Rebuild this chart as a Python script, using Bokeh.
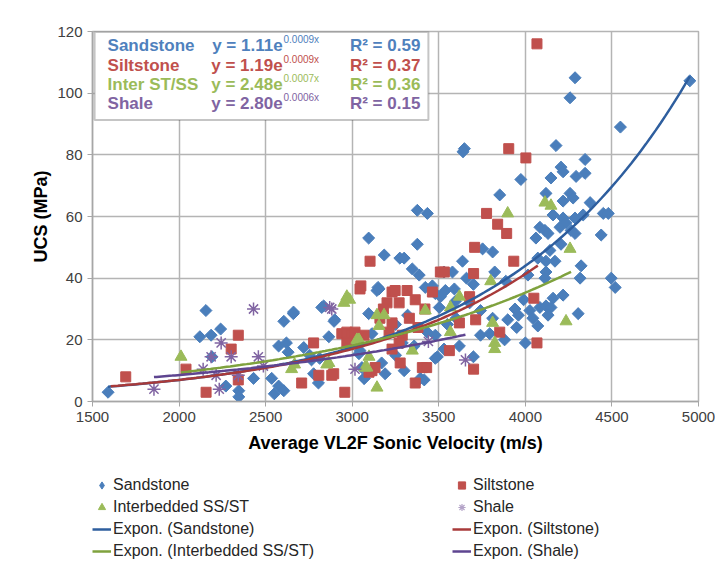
import numpy as np
from bokeh.plotting import figure
from bokeh.layouts import column
from bokeh.models import (Range1d, SingleIntervalTicker, Legend, LegendItem,
                          BoxAnnotation, Label)
from bokeh.embed import file_html
from bokeh.resources import INLINE

# ---------------- data ----------------
SAND_X = [1590, 2120, 2185, 2240, 2155, 2190, 2270, 2345, 2345, 2430, 2535, 2575, 2605, 2550,
          2605, 2660, 2575, 2620, 2630, 2720, 2765, 2805, 2835, 2895, 2865, 3045, 3095, 3185,
          3275, 3155, 3095, 3170, 3070, 3190, 4287, 4258, 4549, 4950, 3648, 3640, 4177, 3974,
          3852, 4206, 4218, 4148, 4345, 4293, 4345, 4119, 4258, 4276, 4218, 4374, 4160, 4218,
          4235, 4287, 4200, 4264, 4084, 4113, 4061, 4131, 4287, 4450, 4479, 4438, 4334, 4072,
          4119, 4171, 4142, 4206, 4119, 4113, 4322, 4316, 4496, 4519, 4015, 4026, 4043, 4072,
          4084, 4119, 4160, 4218, 4148, 4305, 4131, 3376, 3434, 3376, 3300, 3347, 3387, 3579,
          3637, 3753, 3811, 3823, 3887, 3422, 3480, 3538, 3590, 3596, 3503, 3678, 3741, 3811,
          3898, 3741, 3794, 3619, 3480, 3480, 3358, 3393, 2661, 2824, 2899, 3143, 3510, 2754,
          2812, 2777, 3039, 3114, 3056, 3492, 3433, 3416, 3068, 3289, 3463, 3149, 3250, 3320,
          3550, 3600, 3700, 3660, 3530, 3940, 3990, 3950, 3880, 3960, 4000, 3530, 3700, 3300,
          3250]
SAND_Y = [3, 21, 21.5, 23.5, 29.5, 14.5, 5, 3.5, 1.5, 7.5, 7.5, 5, 3.5, 2.5,
          26, 28.5, 18, 19, 16, 17.5, 13.5, 6, 31, 26, 21, 16.5, 53, 47.5,
          46.5, 36.5, 28.5, 12.5, 7.5, 9, 105, 98.5, 89, 104, 82, 81, 83, 72,
          67, 76, 74.5, 72.5, 78.5, 73, 74, 67.5, 67.5, 66, 65, 64.5, 60.5, 59.5,
          58, 59.5, 56.5, 55.5, 56.5, 55.5, 53, 54.5, 54.5, 61, 61, 54, 60.5, 46.5,
          45.5, 45.5, 49, 51, 42, 40, 44, 40, 40, 37, 41, 29.5, 27, 24.5,
          30.5, 31, 33.5, 34.5, 30.5, 28.5, 28, 62, 61, 51, 46.5, 43, 41, 42,
          45.5, 49.5, 48.5, 42, 39, 37, 35, 36, 36.5, 32.5, 30.5, 32, 29.5, 27,
          26.5, 21.5, 22, 18, 21.5, 14, 18, 7.5, 29, 30.5, 26.5, 36, 34, 15,
          14, 9, 15.5, 22, 11, 14.5, 22.5, 7, 7.5, 19, 37.5, 37, 25, 28,
          25, 27, 38, 40, 42, 30, 33, 24, 20, 28, 19, 17, 14.5, 10,
          15]

SILT_X = [1692, 2040, 2156, 2301, 2342, 2342, 2708, 2777, 2807, 2882, 2893, 2957, 2940, 2969,
          2998, 3016, 2969, 3068, 3050, 3103, 3045, 3097, 3114, 3132, 3201, 3230, 3271, 3317,
          3364, 3463, 3230, 3213, 3289, 3271, 3230, 3277, 3364, 3405, 3430, 3509, 3532, 3561,
          3619, 3678, 3701, 3707, 3713, 3701, 3776, 3840, 3892, 3852, 3904, 4003, 3933, 4049,
          4067, 4067, 3248, 3180, 3330, 3380, 3160, 3420]
SILT_Y = [8, 10.5, 3, 17, 21.5, 7, 6, 19, 8.5, 8.5, 9, 3, 22, 22.5,
          21.5, 22.5, 19, 21.5, 37.5, 45.5, 36.5, 9.5, 10, 11, 32, 35.5, 32, 36,
          33, 35.5, 25.5, 22.5, 21.5, 19, 17, 12.5, 6, 11, 11, 42, 42, 16.5,
          25.5, 34, 41.5, 50, 26.5, 10.5, 61, 57.5, 54.5, 22.5, 82, 79, 45.5, 33.5,
          19, 116, 36, 30, 27, 24, 27, 30]

INTER_X = [2011, 2650, 2667, 2853, 2865, 2952, 2969, 2985, 3027, 3039, 3074, 3085, 3097, 3143,
           3143, 3184, 3155, 3347, 3422, 3567, 3619, 3567, 3800, 3811, 3823, 3823, 3898, 4113,
           4148, 4258, 4235]
INTER_Y = [14.5, 10.5, 12, 12, 12.5, 32, 34, 33, 20, 20, 11, 11, 14.5, 4.5,
           28, 28, 24.5, 16.5, 29.5, 30.5, 34, 22.5, 39, 25.5, 19, 17, 61, 64.5,
           63.5, 49.5, 26]

SHALE_X = [1855, 2139, 2185, 2214, 2232, 2243, 2301, 2342, 2430, 2458, 2487, 2870, 2882, 3016,
           3440, 3654]
SHALE_Y = [4, 10.5, 14.5, 8.5, 4, 19, 14.5, 8.5, 30, 14.5, 11.5, 30.5, 30, 10.5,
           19.5, 13.5]

SERIES_NAMES = ["Sandstone", "Siltstone", "Interbedded SS/ST", "Shale"]
BOX_NAMES = ["Sandstone", "Siltstone", "Inter ST/SS", "Shale"]
EQ_COEF = ["1.11", "1.19", "2.48", "2.80"]
EQ_EXP = ["0.0009x", "0.0009x", "0.0007x", "0.0006x"]
R2_VALUES = ["0.59", "0.37", "0.36", "0.15"]
# exponential trendlines y = a * exp(b x), spanning each series' velocity range
TREND_A = [1.11, 1.19, 2.48, 2.80]
TREND_B = [0.00092, 0.000887, 0.000664, 0.00056]
TREND_X0 = [1590, 1605, 2011, 1855]
TREND_X1 = [4950, 4072, 4264, 3654]

X_START, X_END, X_STEP = 1500, 5000, 500
Y_START, Y_END, Y_STEP = 0, 120, 20

# ---------------- styles ----------------
MARK_COLORS = ["#4A7EBB", "#C0504D", "#9BBB59", "#8064A2"]
LINE_COLORS = ["#2E5E9E", "#A83A3A", "#7FA23E", "#5E4590"]
TEXT_COLORS = ["#4F81BD", "#C0504D", "#9BBB59", "#8064A2"]
FONT = "Liberation Sans"
W = 715

p = figure(width=W, height=462,
           x_range=Range1d(X_START, X_END), y_range=Range1d(Y_START, Y_END),
           output_backend="svg", toolbar_location=None,
           min_border_left=92, min_border_right=17, min_border_top=31,
           min_border_bottom=61)
p.background_fill_color = "white"
p.border_fill_color = "white"
p.outline_line_color = "#B4B4B4"
p.outline_line_width = 1.5

p.xaxis.ticker = SingleIntervalTicker(interval=X_STEP)
p.yaxis.ticker = SingleIntervalTicker(interval=Y_STEP)
p.xgrid.ticker = SingleIntervalTicker(interval=X_STEP)
p.ygrid.ticker = SingleIntervalTicker(interval=Y_STEP)
for g in (p.xgrid, p.ygrid):
    g.grid_line_color = "#B4B4B4"
    g.grid_line_width = 1.5

for ax in (p.xaxis, p.yaxis):
    ax.axis_line_color = "#A6A6A6"
    ax.axis_line_width = 1.5
    ax.major_tick_line_color = "#A6A6A6"
    ax.major_tick_out = 5
    ax.major_tick_in = 0
    ax.minor_tick_line_color = None
    ax.major_label_text_font = FONT
    ax.major_label_text_font_size = "15px"
    ax.major_label_text_color = "#404040"
    ax.axis_label_text_font = FONT
    ax.axis_label_text_font_size = "18px"
    ax.axis_label_text_font_style = "bold"
    ax.axis_label_text_color = "#000000"

p.xaxis.axis_label = "Average VL2F Sonic Velocity (m/s)"
p.yaxis.axis_label = "UCS (MPa)"
p.xaxis.axis_label_standoff = 8
p.yaxis.axis_label_standoff = 3

# ---------------- scatter ----------------
SAND_STYLE = dict(marker="square", angle=np.pi / 4, fill_color=MARK_COLORS[0], line_color=MARK_COLORS[0])
SILT_STYLE = dict(marker="square", fill_color=MARK_COLORS[1], line_color=MARK_COLORS[1])
INTER_STYLE = dict(marker="triangle", fill_color=MARK_COLORS[2], line_color=MARK_COLORS[2])
SHALE_STYLE = dict(marker="asterisk", line_color=MARK_COLORS[3], line_width=1.5)

p.scatter(SAND_X, SAND_Y, size=8.5, **SAND_STYLE)
p.scatter(SILT_X, SILT_Y, size=10, **SILT_STYLE)
p.scatter(INTER_X, INTER_Y, size=12, **INTER_STYLE)
p.scatter(SHALE_X, SHALE_Y, size=13, **SHALE_STYLE)

# ---------------- trendlines ----------------
TREND_XS, TREND_YS = [], []
for i in range(4):
    xs = np.linspace(TREND_X0[i], TREND_X1[i], 120)
    ys = TREND_A[i] * np.exp(TREND_B[i] * xs)
    TREND_XS.append(xs)
    TREND_YS.append(ys)
    p.line(xs, ys, line_color=LINE_COLORS[i], line_width=2.5)

# ---------------- equation box ----------------
box = BoxAnnotation(left=1512, right=3440, top=119.8, bottom=91.3,
                    fill_color="white", fill_alpha=1.0,
                    line_color="#404040", line_width=2)
p.add_layout(box)

ROW_Y0, ROW_DY = 115.4, 6.27
for i in range(4):
    yy = ROW_Y0 - i * ROW_DY
    common = dict(y=yy, text_baseline="middle", text_font=FONT,
                  text_color=TEXT_COLORS[i], text_font_size="17px",
                  text_font_style="bold")
    p.add_layout(Label(x=1587, text=BOX_NAMES[i], text_align="left", **common))
    p.add_layout(Label(x=2598, text="y = " + EQ_COEF[i] + "e", text_align="right", **common))
    p.add_layout(Label(x=2987, text="R\u00b2 = " + R2_VALUES[i], text_align="left", **common))
    p.add_layout(Label(x=2603, y=yy, y_offset=6, text=EQ_EXP[i], text_align="left",
                       text_baseline="middle", text_font=FONT, text_color=TEXT_COLORS[i],
                       text_font_size="10px"))

# ---------------- legend (separate strip below the chart) ----------------
lg = figure(width=W, height=98, x_range=Range1d(X_START, X_END), y_range=Range1d(Y_START, Y_END),
            output_backend="svg", toolbar_location=None,
            x_axis_location=None, y_axis_location=None,
            min_border_left=0, min_border_right=0, min_border_top=0, min_border_bottom=0)
lg.grid.visible = False
lg.outline_line_color = None
lg.background_fill_color = "white"
lg.border_fill_color = "white"

# hidden copies of the series: they only supply the legend's swatches
d_sand = lg.scatter(SAND_X, SAND_Y, size=11, marker="diamond", fill_color=MARK_COLORS[0],
                    line_color=MARK_COLORS[0], visible=False)
d_silt = lg.scatter(SILT_X, SILT_Y, size=9, visible=False, **SILT_STYLE)
d_inter = lg.scatter(INTER_X, INTER_Y, size=10, visible=False, **INTER_STYLE)
d_shale = lg.scatter(SHALE_X, SHALE_Y, size=11, marker="asterisk", line_color="#B3A2C7",
                     line_width=1.2, visible=False)
d_lines = [lg.line(TREND_XS[i], TREND_YS[i], line_color=LINE_COLORS[i], line_width=2.5,
                   visible=False) for i in range(4)]

items = [
    LegendItem(label=SERIES_NAMES[0], renderers=[d_sand]),
    LegendItem(label=SERIES_NAMES[2], renderers=[d_inter]),
    LegendItem(label="Expon. (" + SERIES_NAMES[0] + ")", renderers=[d_lines[0]]),
    LegendItem(label="Expon. (" + SERIES_NAMES[2] + ")", renderers=[d_lines[2]]),
    LegendItem(label=SERIES_NAMES[1], renderers=[d_silt]),
    LegendItem(label=SERIES_NAMES[3], renderers=[d_shale]),
    LegendItem(label="Expon. (" + SERIES_NAMES[1] + ")", renderers=[d_lines[1]]),
    LegendItem(label="Expon. (" + SERIES_NAMES[3] + ")", renderers=[d_lines[3]]),
]
legend = Legend(items=items, location=(0, 0), orientation="vertical", ncols=2,
                glyph_width=19, glyph_height=18, label_height=18, label_width=335,
                label_standoff=2, spacing=4, padding=0, margin=0,
                border_line_color=None, background_fill_alpha=0,
                inactive_fill_alpha=0,
                label_text_font=FONT, label_text_font_size="16px",
                label_text_color="#262626")
lg.add_layout(legend, "center")

layout = column(p, lg, spacing=0)
open("out.html", "w").write(file_html(layout, INLINE))
